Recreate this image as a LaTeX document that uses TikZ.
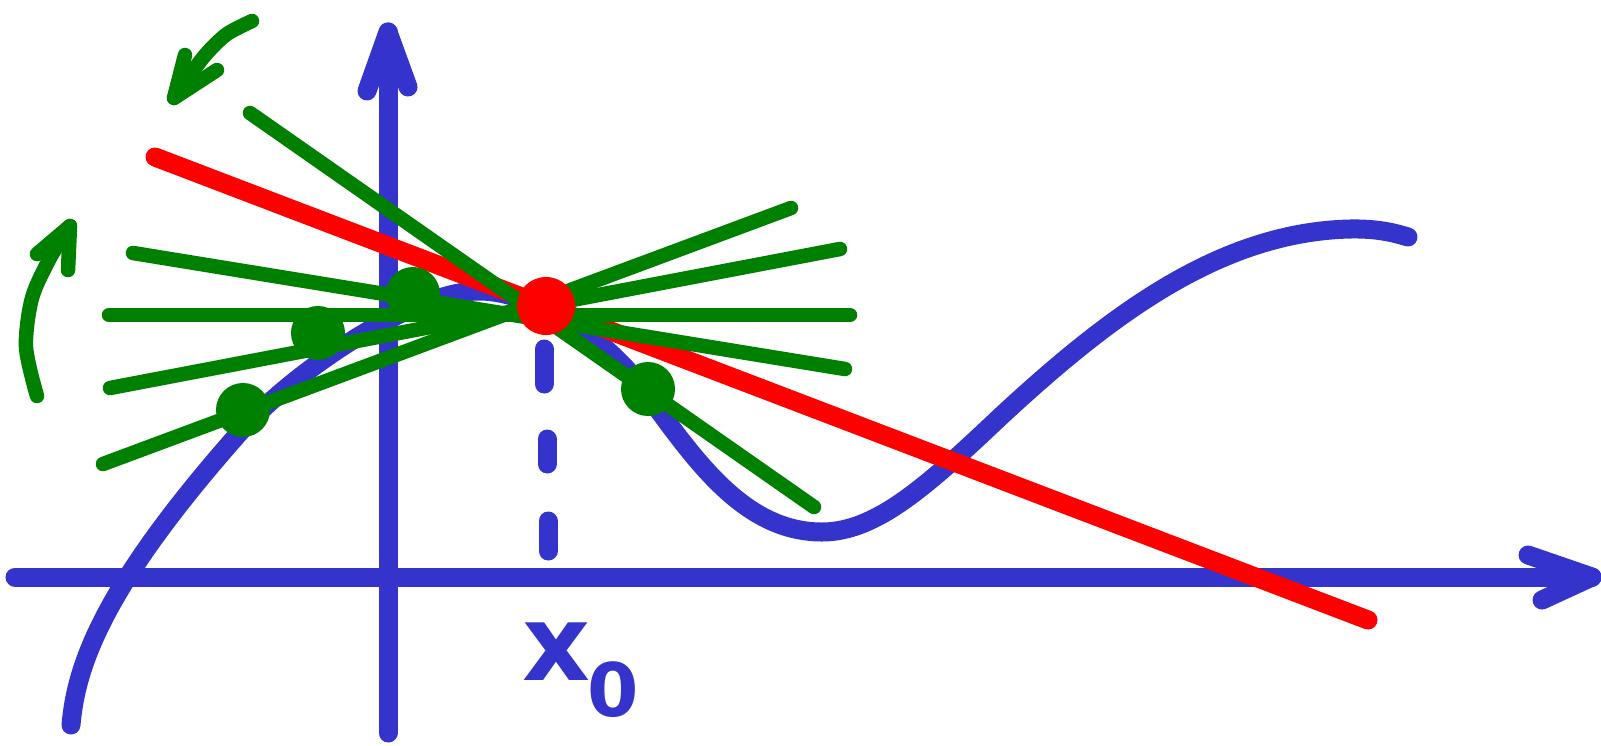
\documentclass[tikz,border=0pt]{standalone}
\usepackage{fontspec}
\newfontfamily\lblfont{DejaVu Sans}
\definecolor{cblue}{RGB}{52,52,204}
\definecolor{cgreen}{RGB}{0,128,0}
\definecolor{cred}{RGB}{255,0,0}
\begin{document}
\begin{tikzpicture}[x=0.01cm,y=-0.01cm, line cap=round, line join=round,
  bluel/.style={draw=cblue, line width=0.19cm},
  greenl/.style={draw=cgreen, line width=0.145cm},
  redl/.style={draw=cred, line width=0.19cm},
  arrowl/.style={draw=cgreen, line width=0.145cm},
  gdot/.style={circle, fill=cgreen, minimum size=0.54cm, inner sep=0pt},
  rdot/.style={circle, fill=cred, minimum size=0.58cm, inner sep=0pt}]
\useasboundingbox (0,0) rectangle (1601,745);
% axes
\coordinate (xs) at (15,577);
\coordinate (xt) at (1592,577);
\coordinate (ys) at (388,733);
\coordinate (yt) at (388,32);
\draw[bluel] (xs) -- (xt);
\draw[bluel] (1528,555) -- (xt) -- (1542,600);
\draw[bluel] (ys) -- (yt);
\draw[bluel] (367,91) -- (yt) -- (408,87);
% dashed drop line
\draw[bluel] (544,349) -- (544,384) (547,439) -- (547,464) (548,521) -- (548,551);
% curve
\draw[bluel] (71,725) .. controls (76,668) and (100,590) .. (240,432)
  .. controls (295,370) and (415,290) .. (480,291)
  .. controls (525,291) and (596,328) .. (640,385)
  .. controls (690,452) and (740,532) .. (822,532)
  .. controls (875,532) and (925,488) .. (1000,417)
  .. controls (1110,315) and (1220,232) .. (1350,229)
  .. controls (1375,228.5) and (1392,232) .. (1408,237);
% red tangent
\draw[redl] (155,157) -- (1368,620);
% green secants
\draw[greenl] (250,113) -- (814,507);
\draw[greenl] (133,253) -- (845,369);
\draw[greenl] (109,315) -- (850,315);
\draw[greenl] (110,388) -- (840,249);
\draw[greenl] (103,464) -- (791,208);
% points
\node[gdot] (g1) at (413,294) {};
\node[gdot] (g2) at (318,333) {};
\node[gdot] (g3) at (243,410) {};
\node[gdot] (g4) at (648,389) {};
\node[rdot] (p0) at (546,306) {};
% rotation arrows
\draw[arrowl] plot[smooth] coordinates {(37,396) (26,347) (32,298) (50,258) (70,226)};
\draw[arrowl] (37,254) -- (70,226) -- (68,270);
\draw[arrowl] plot[smooth] coordinates {(252,21) (227,34) (207,53) (190,75) (174,98)};
\draw[arrowl] (185,55) -- (174,98) -- (217,70);
% label
\node[text=cblue, anchor=base west, inner sep=0pt, font=\lblfont\bfseries\fontsize{30}{30}\selectfont] (lbl) at (522,680) {x\kern-1pt\raisebox{-0.36cm}{\fontsize{21}{21}\selectfont 0}};
\end{tikzpicture}
\end{document}
